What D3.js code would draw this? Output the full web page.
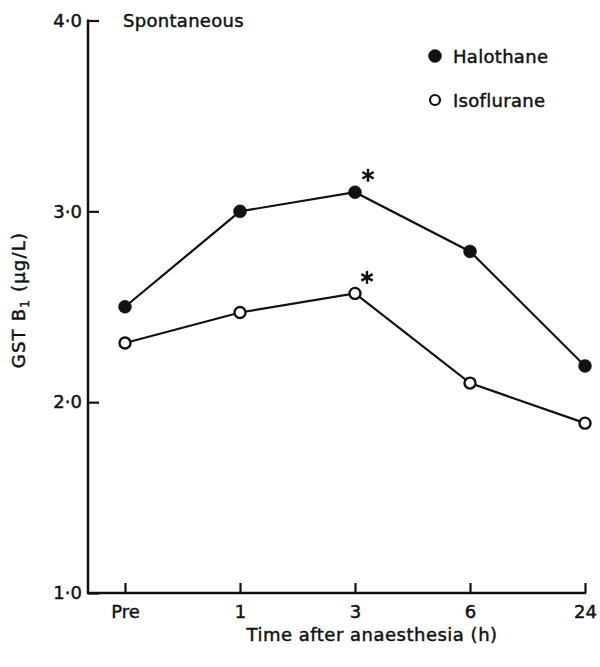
<!DOCTYPE html>
<html>
<head>
<meta charset="utf-8">
<script src="https://cdn.jsdelivr.net/npm/d3@7"></script>
<style>
  html, body { margin: 0; padding: 0; background: #fff; }
  svg { display: block; }
  text { font-family: "DejaVu Sans", "Liberation Sans", sans-serif; fill: #111; stroke: #111; stroke-width: 0.45px; }
</style>
</head>
<body>
<svg id="chart" width="600" height="667"></svg>
<script>
// Time points after anaesthesia
const categories = ["Pre", "1", "3", "6", "24"];
// GST B1 concentration (µg/L), spontaneous ventilation
const halothane = [2.50, 3.00, 3.10, 2.79, 2.19];
const isoflurane = [2.31, 2.47, 2.57, 2.10, 1.89];
// Significant differences marked with an asterisk (index into categories)
const markedIndex = 2;
// Y axis ticks and their printed labels
const yTicks = [1, 2, 3, 4];
const yTickLabels = ["1·0", "2·0", "3·0", "4·0"];

const svg = d3.select("#chart");
const ink = "#111";
const fontSize = 18;

const axisX0 = 88;
const x = d3.scalePoint().domain(categories).range([125, 585]);
const y = d3.scaleLinear().domain([1, 4]).range([593, 20.5]);

// Axis lines
svg.append("line")
  .attr("x1", axisX0).attr("x2", axisX0)
  .attr("y1", y(4) - 1).attr("y2", y(1) + 1)
  .attr("stroke", ink).attr("stroke-width", 2.5);
svg.append("line")
  .attr("x1", axisX0 - 1).attr("x2", x("24") + 1)
  .attr("y1", y(1)).attr("y2", y(1))
  .attr("stroke", ink).attr("stroke-width", 2.5);

// Y axis: ticks pointing inward
const yAxis = d3.axisLeft(y)
  .tickValues(yTicks)
  .tickFormat((d, i) => yTickLabels[i])
  .tickSizeInner(-11)
  .tickSizeOuter(0)
  .tickPadding(6);
const gy = svg.append("g").attr("transform", `translate(${axisX0},0)`).call(yAxis);
gy.select(".domain").remove();
gy.selectAll(".tick line").attr("stroke", ink).attr("stroke-width", 2.2);
gy.selectAll(".tick text")
  .attr("font-size", fontSize)
  .attr("font-family", "DejaVu Sans, sans-serif")
  .attr("fill", ink);

// X axis: ticks pointing upward
const xAxis = d3.axisBottom(x)
  .tickSizeInner(-10)
  .tickSizeOuter(0)
  .tickPadding(12);
const gx = svg.append("g").attr("transform", `translate(0,${y(1)})`).call(xAxis);
gx.select(".domain").remove();
gx.selectAll(".tick line").attr("stroke", ink).attr("stroke-width", 2.2);
gx.selectAll(".tick text")
  .attr("font-size", fontSize)
  .attr("font-family", "DejaVu Sans, sans-serif")
  .attr("fill", ink);

// Axis titles
svg.append("text")
  .attr("x", 372).attr("y", 641)
  .attr("text-anchor", "middle")
  .attr("font-size", fontSize)
  .attr("letter-spacing", 0.5)
  .text("Time after anaesthesia (h)");

const yTitle = svg.append("text")
  .attr("transform", "translate(25,300) rotate(-90)")
  .attr("text-anchor", "middle")
  .attr("font-size", fontSize)
  .attr("letter-spacing", 1.2);
yTitle.append("tspan").text("GST B");
yTitle.append("tspan").attr("font-size", 12).attr("dy", 4).text("1");
yTitle.append("tspan").attr("dy", -4).text(" (µg/L)");

// Panel title
svg.append("text")
  .attr("x", 123).attr("y", 27)
  .attr("font-size", fontSize)
  .attr("letter-spacing", 0.3)
  .text("Spontaneous");

// Series lines and markers
const line = d3.line()
  .x((d, i) => x(categories[i]))
  .y(d => y(d));

const series = [
  { name: "Halothane", values: halothane, fill: ink },
  { name: "Isoflurane", values: isoflurane, fill: "#fff" }
];

series.forEach(s => {
  svg.append("path")
    .datum(s.values)
    .attr("d", line)
    .attr("fill", "none")
    .attr("stroke", ink)
    .attr("stroke-width", 2.2);
  svg.append("g").selectAll("circle")
    .data(s.values)
    .join("circle")
    .attr("cx", (d, i) => x(categories[i]))
    .attr("cy", d => y(d))
    .attr("r", s.fill === "#fff" ? 5.5 : 6.5)
    .attr("fill", s.fill)
    .attr("stroke", ink)
    .attr("stroke-width", s.fill === "#fff" ? 2.4 : 0.5);
});

// Asterisks marking significance at 3 h
function asterisk(cx, cy, r) {
  const g = svg.append("g").attr("transform", `translate(${cx},${cy})`);
  [90, 30, 150].forEach(a => {
    const rad = a * Math.PI / 180;
    g.append("line")
      .attr("x1", -r * Math.cos(rad)).attr("y1", -r * Math.sin(rad))
      .attr("x2", r * Math.cos(rad)).attr("y2", r * Math.sin(rad))
      .attr("stroke", ink).attr("stroke-width", 2.4);
  });
}
asterisk(x(categories[markedIndex]) + 13, y(halothane[markedIndex]) - 17, 6.5);
asterisk(x(categories[markedIndex]) + 12, y(isoflurane[markedIndex]) - 16, 6.5);

// Legend
const legend = svg.append("g");
series.forEach((s, i) => {
  const ly = 56 + i * 44;
  legend.append("circle")
    .attr("cx", 435).attr("cy", ly)
    .attr("r", s.fill === "#fff" ? 5 : 6.5)
    .attr("fill", s.fill)
    .attr("stroke", ink)
    .attr("stroke-width", s.fill === "#fff" ? 2.2 : 0.5);
  legend.append("text")
    .attr("x", 453).attr("y", ly + 6.5)
    .attr("font-size", fontSize)
    .attr("letter-spacing", 0.3)
    .text(s.name);
});
</script>
</body>
</html>
